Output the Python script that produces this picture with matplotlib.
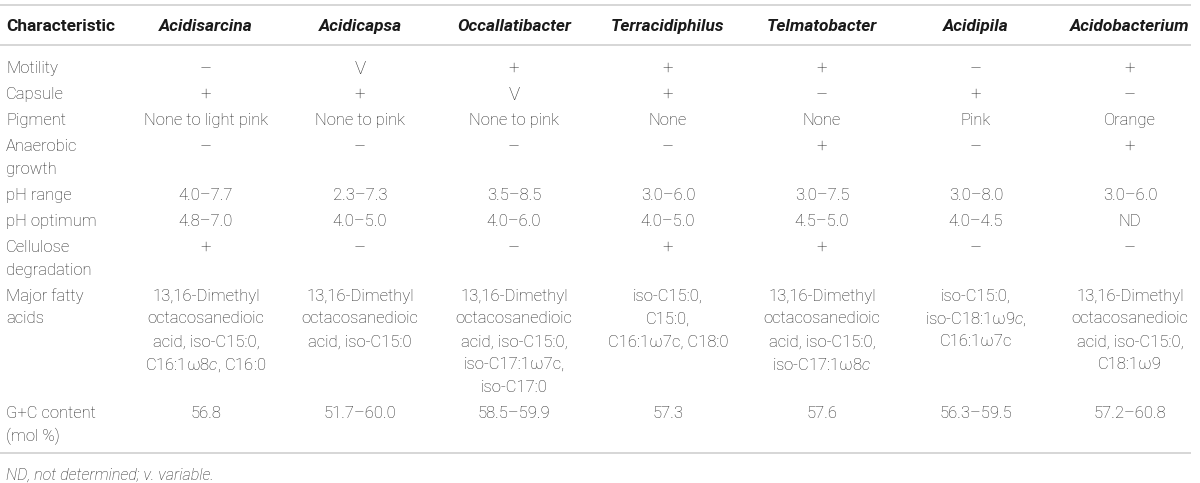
import matplotlib
matplotlib.use("Agg")
import matplotlib.pyplot as plt

# ── Data ──────────────────────────────────────────────────────────────────────

first_header = "Characteristic"
genera = ["Acidisarcina", "Acidicapsa", "Occallatibacter", "Terracidiphilus",
          "Telmatobacter", "Acidipila", "Acidobacterium"]

characteristics = ["Motility", "Capsule", "Pigment", "Anaerobic\ngrowth",
                   "pH range", "pH optimum", "Cellulose\ndegradation",
                   "Major fatty\nacids", "G+C content\n(mol %)"]

motility  = ["–", "V", "+", "+", "+", "–", "+"]
capsule   = ["+", "+", "V", "+", "–", "+", "–"]
pigment   = ["None to light pink", "None to pink", "None to pink", "None",
             "None", "Pink", "Orange"]
anaerobic = ["–", "–", "–", "–", "+", "–", "+"]
ph_range  = ["4.0–7.7", "2.3–7.3", "3.5–8.5", "3.0–6.0", "3.0–7.5",
             "3.0–8.0", "3.0–6.0"]
ph_opt    = ["4.8–7.0", "4.0–5.0", "4.0–6.0", "4.0–5.0", "4.5–5.0",
             "4.0–4.5", "ND"]
cellulose = ["+", "–", "–", "+", "+", "–", "–"]
fatty     = [
    "13,16-Dimethyl\noctacosanedioic\nacid, iso-C15:0,\nC16:1ω8$\\mathit{c}$, C16:0",
    "13,16-Dimethyl\noctacosanedioic\nacid, iso-C15:0",
    "13,16-Dimethyl\noctacosanedioic\nacid, iso-C15:0,\niso-C17:1ω7c,\niso-C17:0",
    "iso-C15:0,\nC15:0,\nC16:1ω7c, C18:0",
    "13,16-Dimethyl\noctacosanedioic\nacid, iso-C15:0,\niso-C17:1ω8$\\mathit{c}$",
    "iso-C15:0,\niso-C18:1ω9$\\mathit{c}$,\nC16:1ω7c",
    "13,16-Dimethyl\noctacosanedioic\nacid, iso-C15:0,\nC18:1ω9",
]
gc        = ["56.8", "51.7–60.0", "58.5–59.9", "57.3", "57.6",
             "56.3–59.5", "57.2–60.8"]

rows = [motility, capsule, pigment, anaerobic, ph_range, ph_opt,
        cellulose, fatty, gc]

footnote = "ND, not determined; v. variable."

# ── Style ─────────────────────────────────────────────────────────────────────

FONT  = "Roboto"
FG    = "#262626"
HEAD  = "#1a1a1a"
RULE  = "#d6d6d6"
SIZE  = 12.0
HSIZE = 12.4
SYM   = 13.5          # lone +, – and V look bigger in the original

plt.rcParams.update({
    "font.family": [FONT, "DejaVu Sans"],
    "mathtext.fontset": "custom",
    "mathtext.rm": f"{FONT}:light",
    "mathtext.it": f"{FONT}:italic:light",
})

W, H = 1200, 483
fig = plt.figure(figsize=(W / 100, H / 100), dpi=100)
ax = fig.add_axes([0, 0, 1, 1])
ax.set_xlim(0, W)
ax.set_ylim(H, 0)
ax.axis("off")

label_x   = 6
col_x0    = 206
col_step  = 154
line_h    = 22.8
row_gap   = 26
y_top     = 5
y_head    = 25
y_headln  = 45
y_first   = 67
x_right   = 1191

def rule(y):
    ax.plot([0, x_right], [y, y], color=RULE, lw=1.4, solid_capstyle="butt")

# header
rule(y_top)
ax.text(label_x, y_head, first_header, ha="left", va="center_baseline",
        fontsize=HSIZE, fontweight="bold", color=HEAD)
for i, g in enumerate(genera):
    ax.text(col_x0 + i * col_step, y_head, g, ha="center", va="center_baseline",
            fontsize=HSIZE, fontweight="bold", fontstyle="italic", color=HEAD)
rule(y_headln)

# body
y = y_first
for label, vals in zip(characteristics, rows):
    n = max([label.count("\n") + 1] + [v.count("\n") + 1 for v in vals])
    for k, line in enumerate(label.split("\n")):
        ax.text(label_x, y + k * line_h, line, ha="left", va="center_baseline",
                fontsize=SIZE, fontweight="light", color=FG)
    for i, v in enumerate(vals):
        fs = SYM if v in ("+", "–", "V") else SIZE
        for k, line in enumerate(v.split("\n")):
            ax.text(col_x0 + i * col_step, y + k * line_h, line,
                    ha="center", va="center_baseline", fontsize=fs,
                    fontweight="light", color=FG)
    last = y + (n - 1) * line_h
    y = last + row_gap

y_bottom = last + 18
rule(y_bottom)
ax.text(label_x, y_bottom + 21, footnote, ha="left", va="center_baseline",
        fontsize=SIZE - 0.4, fontstyle="italic", fontweight="light", color=FG)

fig.savefig("out.png", dpi=100, facecolor="white")
